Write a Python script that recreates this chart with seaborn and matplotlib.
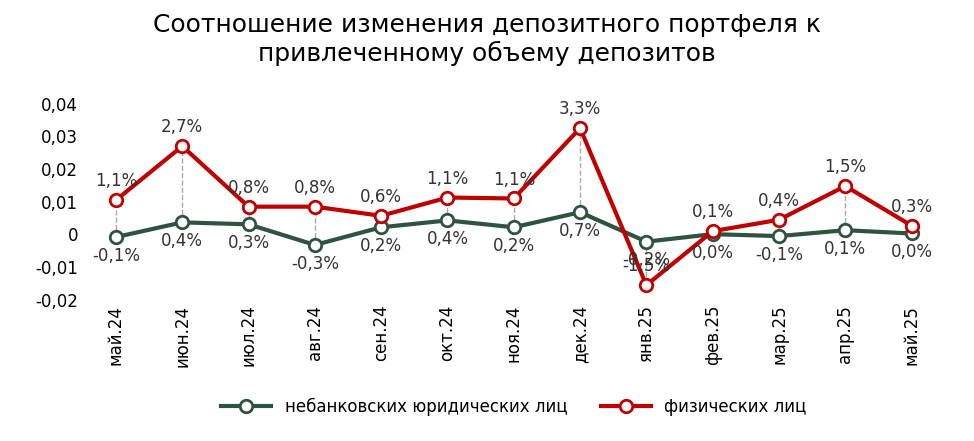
import matplotlib
matplotlib.use("Agg")
import matplotlib.pyplot as plt
import seaborn as sns
import pandas as pd

months = ["май.24","июн.24","июл.24","авг.24","сен.24","окт.24","ноя.24","дек.24","янв.25","фев.25","мар.25","апр.25","май.25"]
legal = [-0.0008,0.0037,0.0031,-0.0032,0.0022,0.0043,0.0022,0.0068,-0.0022,0.0001,-0.0005,0.0013,0.0003]
legal_lbl = ["-0,1%","0,4%","0,3%","-0,3%","0,2%","0,4%","0,2%","0,7%","-0,2%","0,0%","-0,1%","0,1%","0,0%"]
indiv = [0.0105,0.027,0.0085,0.0085,0.0057,0.0113,0.011,0.0325,-0.0155,0.001,0.0045,0.0148,0.0027]
indiv_lbl = ["1,1%","2,7%","0,8%","0,8%","0,6%","1,1%","1,1%","3,3%","-1,5%","0,1%","0,4%","1,5%","0,3%"]
s1 = "небанковских юридических лиц"
s2 = "физических лиц"
c1, c2 = "#2f5340", "#c00000"

plt.rcParams["font.family"] = "DejaVu Sans"
fig = plt.figure(figsize=(9.74,4.41), dpi=100)
ax = fig.add_axes([0.085,0.32,0.885,0.445])
x = list(range(len(months)))
for i in x:
    ax.plot([i,i],[legal[i],indiv[i]], color="#aaaaaa", ls="--", lw=1, zorder=1)
for vals, name, col in [(legal, s1, c1), (indiv, s2, c2)]:
    d = pd.DataFrame({"x": x, "v": vals})
    sns.lineplot(data=d, x="x", y="v", color=col, marker="o", markersize=9,
                 markerfacecolor="white", markeredgecolor=col, markeredgewidth=2,
                 lw=3, ax=ax, label=name, zorder=3)
for i in x:
    ax.text(i, indiv[i]+0.003, indiv_lbl[i], ha="center", va="bottom", fontsize=12, color="#333")
    ax.text(i, legal[i]-0.003, legal_lbl[i], ha="center", va="top", fontsize=12, color="#333")
ax.set_ylim(-0.02,0.04)
ax.set_yticks([-0.02,-0.01,0,0.01,0.02,0.03,0.04])
ax.set_yticklabels(["-0,02","-0,01","0","0,01","0,02","0,03","0,04"], fontsize=12)
ax.set_xlim(-0.5,12.5)
ax.set_xticks(x)
ax.set_xticklabels(months, rotation=90, fontsize=12)
ax.tick_params(length=0)
ax.set_xlabel(""); ax.set_ylabel("")
for sp in ax.spines.values(): sp.set_visible(False)
ax.legend(loc="upper center", bbox_to_anchor=(0.5,-0.42), ncol=2, frameon=False, fontsize=12, handlelength=3)
fig.suptitle("Соотношение изменения депозитного портфеля к\nпривлеченному объему депозитов", fontsize=18, y=0.97)
fig.savefig("out.png", dpi=100)
